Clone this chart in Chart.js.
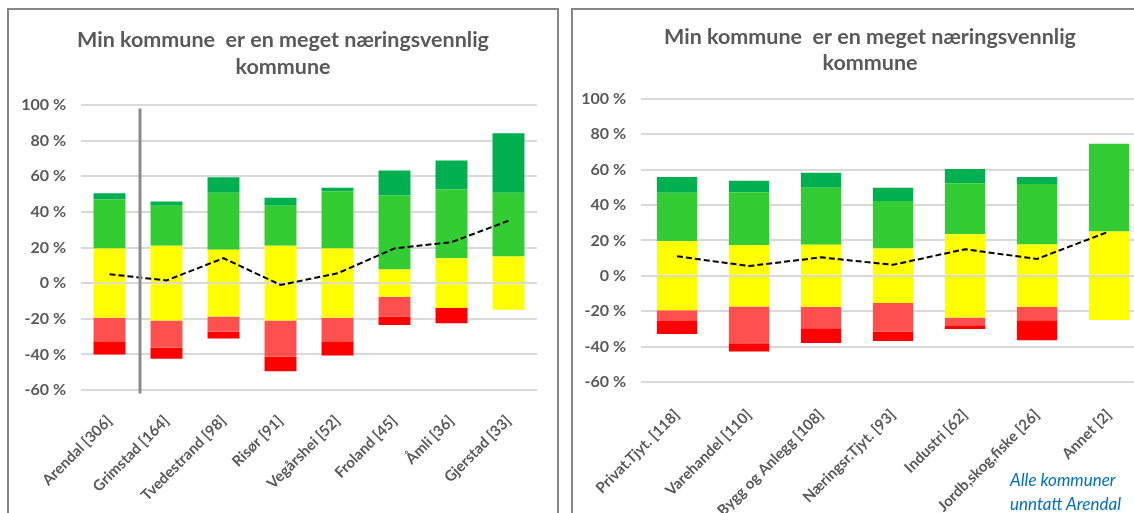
<!DOCTYPE html>
<html>
<head>
<meta charset="utf-8">
<script src="https://cdn.jsdelivr.net/npm/chart.js@4/dist/chart.umd.min.js"></script>
<style>
  body { margin: 0; width: 1134px; height: 513px; overflow: hidden; background: #fff; position: relative; }
  .panel { position: absolute; top: 8px; border: 2px solid #878787; border-bottom: none; background: #fff; }
  #p1 { left: 7px; width: 548px; height: 510px; }
  #p2 { left: 571px; width: 594px; height: 510px; border-right: none; }
  .panel canvas { position: absolute; left: 0; top: 0; }
  .note { position: absolute; left: 1010px; top: 468px; color: #0070C0; font: italic 17px Lato; line-height: 24px; }
</style>
</head>
<body>
<div class="panel" id="p1"><canvas id="chart1" width="548" height="503"></canvas></div>
<div class="panel" id="p2"><canvas id="chart2" width="594" height="503"></canvas></div>
<div class="note">Alle kommuner<br>unntatt Arendal</div>

<script>
// venstre: kommuner
const kommuner = ['Arendal [306]', 'Grimstad [164]', 'Tvedestrand [98]', 'Risør [91]', 'Vegårshei [52]', 'Froland [45]', 'Åmli [36]', 'Gjerstad [33]'];
const kSvaertUenig = [7.3, 6.2, 3.8, 8.2, 7.9, 4.7, 8.5, 0];
const kUenig       = [13.2, 15.3, 8.6, 20.3, 13.3, 11.1, 0, 0];
const kNoytral     = [39, 42, 37.4, 42, 38.8, 15.4, 28, 30];
const kEnig        = [27.5, 22.5, 32.1, 22.5, 32.2, 41.6, 38.5, 35.8];
const kSvaertEnig  = [3.5, 2.3, 8.6, 4.4, 1.9, 13.9, 16.3, 33.4];
const kSnitt       = [5, 1.5, 14, -1, 5.5, 19.5, 23, 35];

// høyre: bransjer
const bransjer = ['Privat.Tjyt. [118]', 'Varehandel [110]', 'Bygg og Anlegg [108]', 'Næringsr.Tjyt. [93]', 'Industri [62]', 'Jordb,skog,fiske [26]', 'Annet [2]'];
const bSvaertUenig = [7.4, 4.7, 8.4, 5.3, 2.1, 11.3, 0];
const bUenig       = [6, 20.8, 12.1, 16.1, 4.4, 7.5, 0];
const bNoytral     = [39, 34.6, 35, 30.8, 47, 35.2, 50];
const bEnig        = [27.4, 29.9, 32.2, 26.9, 28.8, 34.2, 49.6];
const bSvaertEnig  = [8.9, 6.5, 8.5, 7.4, 8, 4, 0];
const bSnitt       = [11, 5.5, 10.4, 6.2, 15, 9.5, 25];

const yTicks = [-60, -40, -20, 0, 20, 40, 60, 80, 100];
const tittel = ['Min kommune  er en meget næringsvennlig', 'kommune'];

const grey = '#595959';

function datasets(sU, u, n, e, sE, snitt) {
  const bar = (label, data, color) => ({ type: 'bar', label, data, backgroundColor: color, borderWidth: 0 });
  return [
    { type: 'line', label: 'Snitt', data: snitt, borderColor: '#000', borderWidth: 2, borderDash: [6, 3],
      pointRadius: 0, fill: false, tension: 0, order: 0 },
    bar('Nøytral-', n.map(v => -v / 2), '#FFFF00'),
    bar('Nøytral+', n.map(v => v / 2), '#FFFF00'),
    bar('Uenig', u.map(v => -v), '#FF5050'),
    bar('Enig', e, '#33CC33'),
    bar('Svært uenig', sU.map(v => -v), '#FF0000'),
    bar('Svært enig', sE, '#00B050')
  ];
}

// grå skillelinje mellom Arendal og resten
const separator = {
  id: 'separator',
  afterDatasetsDraw(chart) {
    if (!chart.options.plugins.separator.on) return;
    const { ctx, scales: { x, y } } = chart;
    const px = (x.getPixelForValue(0) + x.getPixelForValue(1)) / 2 + 2;
    ctx.save();
    ctx.strokeStyle = '#8c8c8c';
    ctx.lineWidth = 3;
    ctx.beginPath();
    ctx.moveTo(px, y.getPixelForValue(98));
    ctx.lineTo(px, y.getPixelForValue(-62));
    ctx.stroke();
    ctx.restore();
  }
};

function makeChart(id, labels, ds, o) {
  return new Chart(document.getElementById(id), {
    data: { labels, datasets: ds },
    plugins: [separator],
    options: {
      responsive: false,
      animation: false,
      datasets: { bar: { categoryPercentage: 1, barPercentage: 0.56 } },
      plugins: {
        legend: { display: false },
        tooltip: { enabled: false },
        separator: { on: o.sep },
        title: {
          display: true, text: tittel, color: grey,
          font: { family: 'Lato', size: 21.5, weight: 'bold', lineHeight: 1.25 },
          padding: { top: o.tTop, bottom: o.tBottom }
        }
      },
      scales: {
        x: {
          stacked: true,
          grid: { display: false },
          border: { display: false },
          ticks: { color: grey, font: { family: 'Lato', size: 15, weight: 'bold' },
                   maxRotation: 45, minRotation: 45, padding: o.xPad, autoSkip: false },
          afterFit: s => { s.height = o.xH; }
        },
        y: {
          stacked: true,
          min: -60, max: 100,
          afterBuildTicks: s => { s.ticks = yTicks.map(v => ({ value: v })); },
          grid: { color: '#d9d9d9', lineWidth: 2, drawTicks: false },
          border: { display: false },
          ticks: { color: grey, font: { family: 'Lato', size: 16, weight: 'bold' }, padding: 15, callback: v => v + ' %' },
          afterFit: s => { s.width = o.yW; }
        },
        // tom akse til høyre, bare for å holde plass
        yR: {
          type: 'linear', position: 'right',
          grid: { display: false }, border: { display: false }, ticks: { display: false },
          afterFit: s => { s.width = o.right; }
        }
      }
    }
  });
}

makeChart('chart1', kommuner, datasets(kSvaertUenig, kUenig, kNoytral, kEnig, kSvaertEnig, kSnitt),
  { right: 20, tTop: 16.5, tBottom: 24.75, xH: 123, yW: 72, xPad: 14, sep: true });
makeChart('chart2', bransjer, datasets(bSvaertUenig, bUenig, bNoytral, bEnig, bSvaertEnig, bSnitt),
  { right: 22, tTop: 13.2, tBottom: 21.8, xH: 131, yW: 68, xPad: 16, sep: false });
</script>
</body>
</html>
